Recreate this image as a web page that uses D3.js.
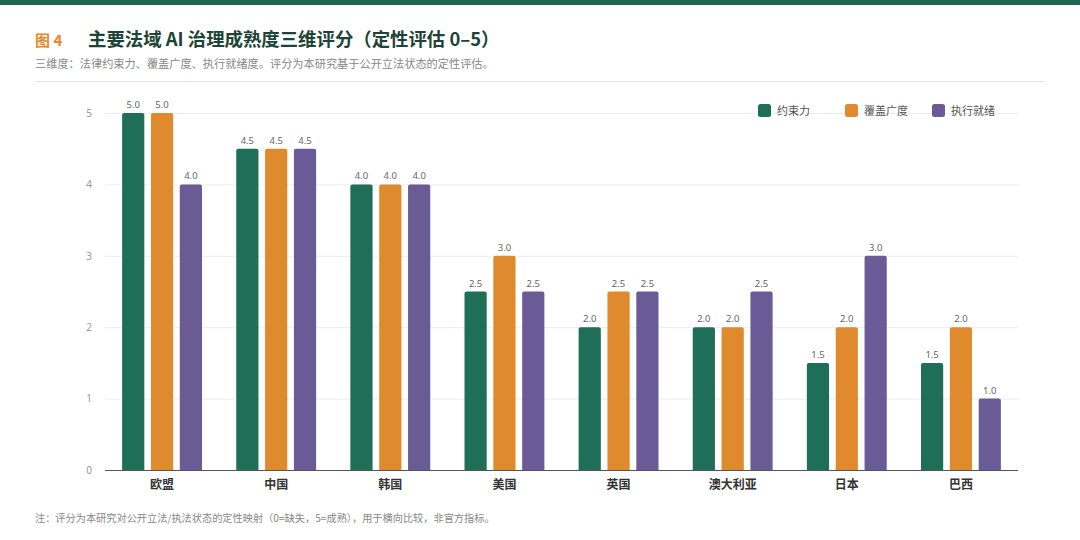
<!DOCTYPE html>
<html>
<head>
<meta charset="utf-8">
<script src="https://cdn.jsdelivr.net/npm/d3@7"></script>
<style>
  body { margin: 0; background: #fff; }
  svg { display: block; font-family: "Noto Sans CJK SC", "Noto Sans", sans-serif; }
</style>
</head>
<body>
<div id="chart"></div>
<script>
const categories = ["欧盟", "中国", "韩国", "美国", "英国", "澳大利亚", "日本", "巴西"];
const seriesNames = ["约束力", "覆盖广度", "执行就绪"];
const binding = [5.0, 4.5, 4.0, 2.5, 2.0, 2.0, 1.5, 1.5];
const coverage = [5.0, 4.5, 4.0, 3.0, 2.5, 2.0, 2.0, 2.0];
const readiness = [4.0, 4.5, 4.0, 2.5, 2.5, 2.5, 3.0, 1.0];
const yTicks = [0, 1, 2, 3, 4, 5];

const colors = ["#1f6e58", "#e08a2e", "#6a5a96"];
const seriesValues = [binding, coverage, readiness];

const width = 1080, height = 540;
const margin = { left: 105, right: 62, top: 113, bottom: 70 };

const svg = d3.select("#chart").append("svg")
    .attr("width", width)
    .attr("height", height);

// top band
svg.append("rect").attr("x", 0).attr("y", 0).attr("width", width).attr("height", 5).attr("fill", "#1e6650");

// header
svg.append("text").attr("x", 35).attr("y", 46)
    .attr("font-size", 15).attr("font-weight", 700).attr("fill", "#e08a2e")
    .text("图 4");
svg.append("text").attr("x", 88).attr("y", 46)
    .attr("font-size", 18.4).attr("font-weight", 700).attr("fill", "#1d4436")
    .text("主要法域 AI 治理成熟度三维评分（定性评估 0–5）");
svg.append("text").attr("x", 35).attr("y", 68)
    .attr("font-size", 11.2).attr("fill", "#888")
    .text("三维度：法律约束力、覆盖广度、执行就绪度。评分为本研究基于公开立法状态的定性评估。");
svg.append("line").attr("x1", 35).attr("x2", 1045).attr("y1", 81.5).attr("y2", 81.5)
    .attr("stroke", "#e6e6e6").attr("stroke-width", 1);

const x0 = d3.scaleBand()
    .domain(categories)
    .range([margin.left, width - margin.right])
    .paddingInner(0.3)
    .paddingOuter(0.15);

const x1 = d3.scaleBand()
    .domain(seriesNames)
    .range([0, x0.bandwidth()])
    .paddingInner(0.23);

const y = d3.scaleLinear()
    .domain([0, 5])
    .range([height - margin.bottom, margin.top]);

// grid
svg.append("g")
    .selectAll("line")
    .data(yTicks.filter(d => d > 0))
    .join("line")
    .attr("x1", margin.left).attr("x2", width - margin.right)
    .attr("y1", d => y(d) + 0.5).attr("y2", d => y(d) + 0.5)
    .attr("stroke", "#ececec");

// y axis labels
const yAxis = svg.append("g")
    .attr("transform", `translate(${margin.left - 10},0)`)
    .call(d3.axisLeft(y).tickValues(yTicks).tickSize(0).tickFormat(d3.format("d")));
yAxis.select(".domain").remove();
yAxis.selectAll("text").attr("font-size", 10).attr("fill", "#999").attr("font-family", "Noto Sans, sans-serif");

// legend
const legendX = [758, 845, 932];
const legend = svg.append("g");
seriesNames.forEach((name, i) => {
    legend.append("rect")
        .attr("x", legendX[i]).attr("y", 104).attr("width", 13).attr("height", 13)
        .attr("rx", 2.5).attr("fill", colors[i]);
    legend.append("text")
        .attr("x", legendX[i] + 19).attr("y", 115)
        .attr("font-size", 11).attr("fill", "#555")
        .text(name);
});

// bars
const rows = categories.map((c, ci) => ({
    category: c,
    values: seriesNames.map((s, si) => ({ series: s, si: si, value: seriesValues[si][ci] }))
}));

const groups = svg.append("g")
    .selectAll("g")
    .data(rows)
    .join("g")
    .attr("transform", d => `translate(${x0(d.category)},0)`);

const r = 2;
groups.selectAll("path")
    .data(d => d.values)
    .join("path")
    .attr("fill", d => colors[d.si])
    .attr("d", d => {
        const bx = x1(d.series), bw = x1.bandwidth();
        const top = y(d.value), bottom = y(0);
        return `M${bx},${bottom}V${top + r}Q${bx},${top} ${bx + r},${top}H${bx + bw - r}Q${bx + bw},${top} ${bx + bw},${top + r}V${bottom}Z`;
    });

groups.selectAll("text")
    .data(d => d.values)
    .join("text")
    .attr("x", d => x1(d.series) + x1.bandwidth() / 2)
    .attr("y", d => y(d.value) - 5)
    .attr("text-anchor", "middle")
    .attr("font-size", 9.5)
    .attr("fill", "#666")
    .attr("font-family", "Noto Sans, sans-serif")
    .text(d => d3.format(".1f")(d.value));

// x axis
svg.append("line")
    .attr("x1", margin.left).attr("x2", width - margin.right)
    .attr("y1", y(0) + 0.5).attr("y2", y(0) + 0.5)
    .attr("stroke", "#555").attr("stroke-width", 1.2);

const xAxis = svg.append("g")
    .attr("transform", `translate(0,${y(0)})`)
    .call(d3.axisBottom(x0).tickSize(0).tickPadding(10));
xAxis.select(".domain").remove();
xAxis.selectAll("text")
    .attr("font-size", 12).attr("font-weight", 700).attr("fill", "#333")
    .attr("font-family", "Noto Sans CJK SC, sans-serif");

// footnote
svg.append("text").attr("x", 35).attr("y", 522)
    .attr("font-size", 10.2).attr("fill", "#888")
    .text("注：评分为本研究对公开立法/执法状态的定性映射（0=缺失，5=成熟），用于横向比较，非官方指标。");
</script>
</body>
</html>
